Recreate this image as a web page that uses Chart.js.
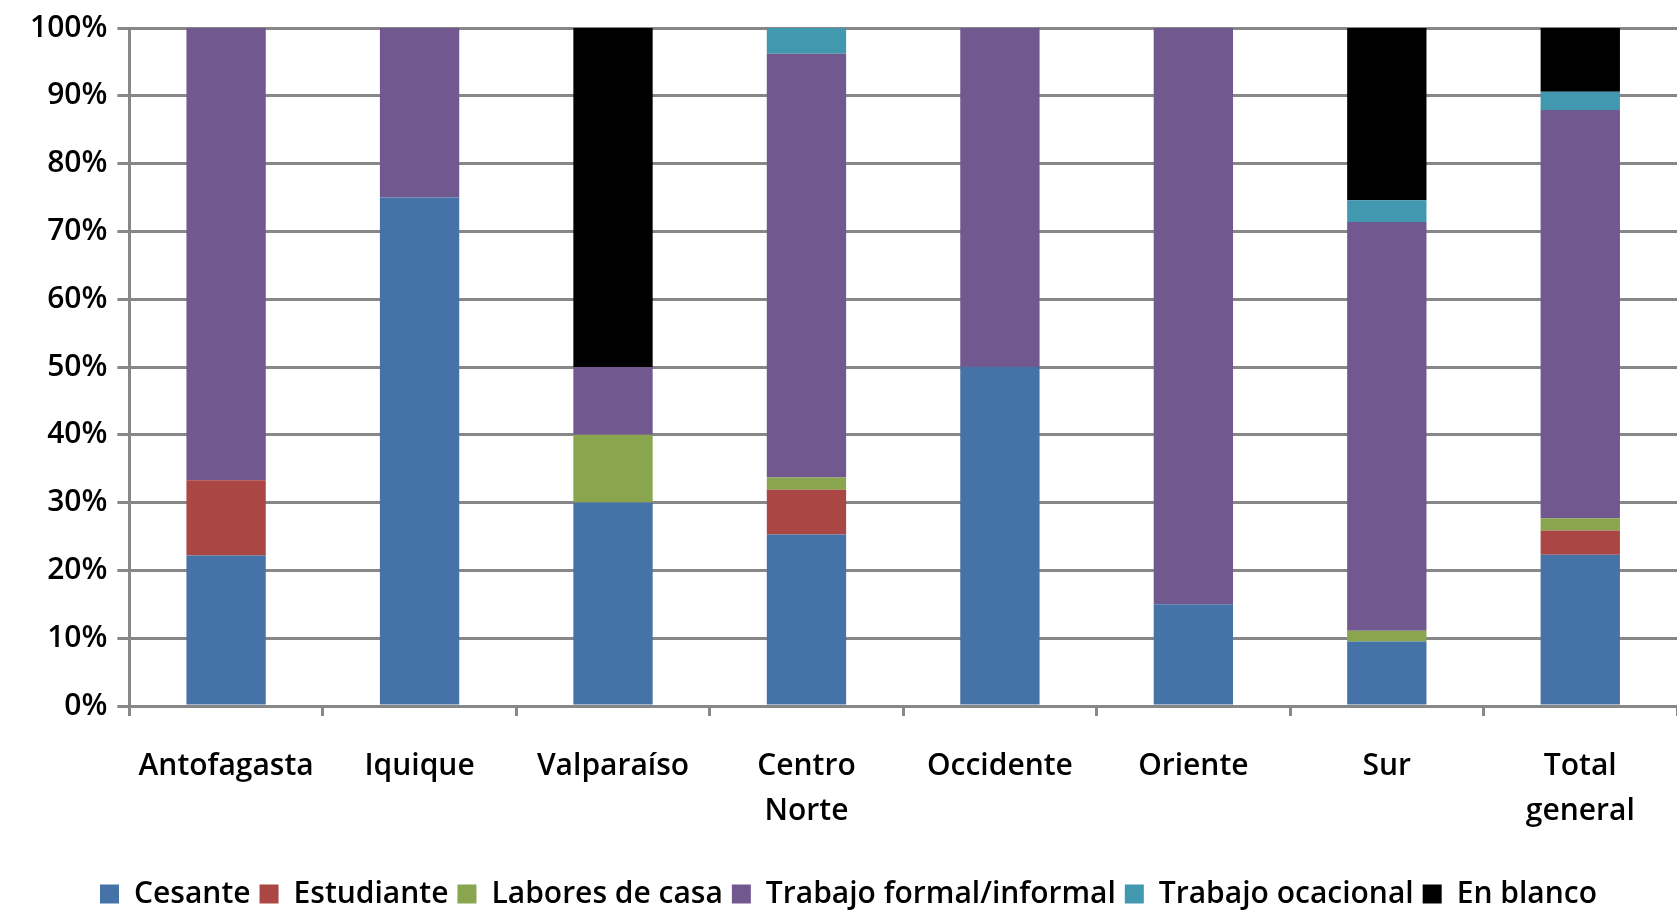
<!DOCTYPE html>
<html>
<head>
<meta charset="utf-8">
<script src="https://cdn.jsdelivr.net/npm/chart.js@4/dist/chart.umd.min.js"></script>
<style>
	html, body { margin: 0; padding: 0; background: #fff; }
	#wrap { width: 1677px; height: 911px; }
</style>
</head>
<body>
<div id="wrap"><canvas id="grafico"></canvas></div>
<script>

// categorias (sectores)
var sectores = ['Antofagasta', 'Iquique', 'Valparaíso', ['Centro', 'Norte'], 'Occidente', 'Oriente', 'Sur', ['Total', 'general']];

// porcentajes por categoria de ocupacion
var cesante    = [22.2, 75.0, 30.0, 25.3, 50.0, 15.0,  9.5, 22.3];
var estudiante = [11.1,  0.0,  0.0,  6.6,  0.0,  0.0,  0.0,  3.6];
var labores    = [ 0.0,  0.0, 10.0,  1.8,  0.0,  0.0,  1.6,  1.8];
var trabajo    = [66.7, 25.0, 10.0, 62.5, 50.0, 85.0, 60.3, 60.2];
var ocasional  = [ 0.0,  0.0,  0.0,  3.8,  0.0,  0.0,  3.2,  2.7];
var enBlanco   = [ 0.0,  0.0, 50.0,  0.0,  0.0,  0.0, 25.4,  9.4];

var ticksY = [0, 10, 20, 30, 40, 50, 60, 70, 80, 90, 100];

var fuente = "'Open Sans', 'Liberation Sans', sans-serif";
var gris = '#878787';

function serie(nombre, datos, color) {
	return {
		label: nombre,
		data: datos,
		backgroundColor: color,
		borderWidth: 0,
		barPercentage: 0.41,
		categoryPercentage: 1.0
	};
}

var ctx = document.getElementById('grafico');
var chart = new Chart(ctx, {
	type: 'bar',
	data: {
		labels: sectores,
		datasets: [
			serie('Cesante', cesante, '#4572A7'),
			serie('Estudiante', estudiante, '#AA4643'),
			serie('Labores de casa', labores, '#89A54E'),
			serie('Trabajo formal/informal', trabajo, '#71588F'),
			serie('Trabajo ocacional', ocasional, '#4198AF'),
			serie('En blanco', enBlanco, '#000000')
		]
	},
	options: {
		responsive: true,
		maintainAspectRatio: false,
		animation: false,
		layout: {
			padding: { top: 9, right: 0, left: 20, bottom: -8 }
		},
		plugins: {
			legend: {
				position: 'bottom',
				labels: {
					font: { family: fuente, size: 30, weight: 600 },
					color: '#000',
					boxWidth: 19,
					boxHeight: 19,
					padding: 9
				}
			},
			tooltip: { enabled: false }
		},
		scales: {
			x: {
				stacked: true,
				offset: true,
				grid: {
					offset: true,
					drawOnChartArea: false,
					drawTicks: true,
					tickLength: 10,
					tickWidth: 3,
					tickColor: gris,
					lineWidth: 3,
					color: gris
				},
				border: { color: gris, width: 3 },
				ticks: {
					font: { family: fuente, size: 30, weight: 600, lineHeight: 1.5 },
					color: '#000',
					padding: 28,
					maxRotation: 0
				},
				afterFit: function(axis) {
					axis.height += 8;
				}
			},
			y: {
				stacked: true,
				min: 0,
				max: 100,
				afterBuildTicks: function(axis) {
					axis.ticks = ticksY.map(function(v) { return { value: v }; });
				},
				grid: {
					color: gris,
					lineWidth: 3,
					tickLength: 12,
					tickColor: gris
				},
				border: { color: gris, width: 3 },
				ticks: {
					font: { family: fuente, size: 30, weight: 600 },
					color: '#000',
					padding: 10,
					callback: function(v) { return v + '%'; }
				}
			}
		}
	}
});
</script>
</body>
</html>
